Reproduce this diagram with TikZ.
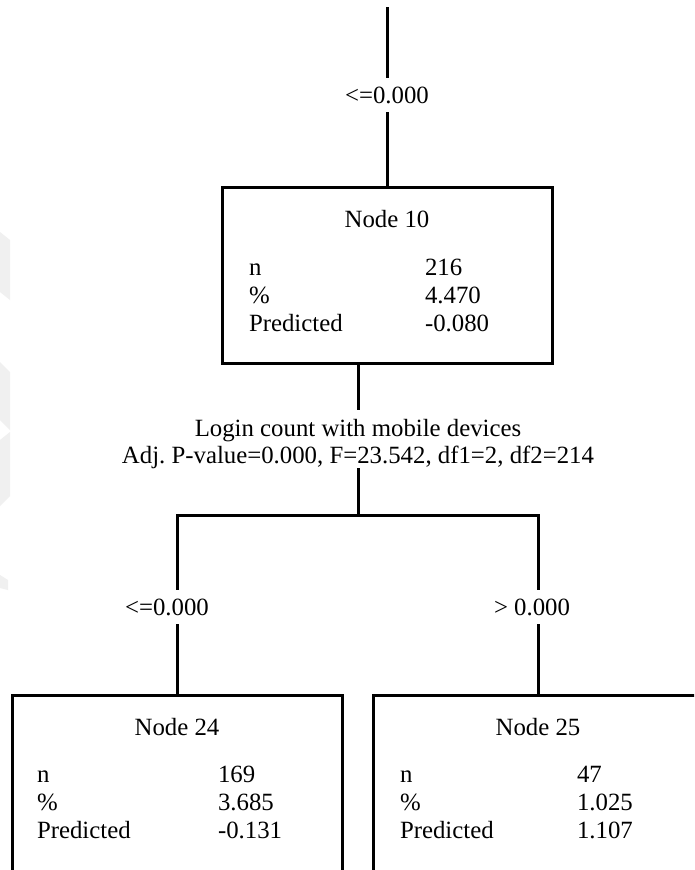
\documentclass[tikz,border=0pt]{standalone}
\usepackage{fontspec}
\setmainfont{Liberation Serif}
\frenchspacing
\begin{document}
\begin{tikzpicture}[x=1pt,y=-1pt,line width=3pt,line join=miter,
  every node/.style={font=\fontsize{24.8}{28}\selectfont,inner sep=0pt,outer sep=0pt},
  box/.style={draw,line width=3pt,minimum width=330pt,minimum height=176pt},
  lab/.style={inner xsep=0pt,inner ysep=9pt},
  wm/.style={fill=black!6,draw=none}]
\clip (0,0) rectangle (694,870);
\fill[white] (0,0) rectangle (694,870);
% faint watermark at left edge
\fill[wm] (0,232) -- (10,240) -- (10,300) -- (0,292) -- cycle;
\fill[wm] (0,362) -- (10,372) -- (10,430) -- (0,420) -- cycle;
\fill[wm] (0,440) -- (10,432) -- (10,496) -- (0,506) -- cycle;
\fill[wm] (0,575) -- (8,580) -- (8,590) -- (0,588) -- cycle;
% boxes
\node[box] (n10) at (387,275) {};
\node[box] (n24) at (177,783) {};
\node[box] (n25) at (538,783) {};
% node 10 text
\node[anchor=base] (n10t) at (387,227) {Node 10};
\node[anchor=base west] (n10a) at (249,275) {n};
\node[anchor=base west] (n10b) at (249,303) {\%};
\node[anchor=base west] (n10c) at (249,331) {Predicted};
\node[anchor=base west] (n10av) at (425,275) {216};
\node[anchor=base west] (n10bv) at (425,303) {4.470};
\node[anchor=base west] (n10cv) at (425,331) {-0.080};
% node 24 text
\node[anchor=base] (n24t) at (177,735) {Node 24};
\node[anchor=base west] (n24a) at (37,782) {n};
\node[anchor=base west] (n24b) at (37,810) {\%};
\node[anchor=base west] (n24c) at (37,838) {Predicted};
\node[anchor=base west] (n24av) at (218,782) {169};
\node[anchor=base west] (n24bv) at (218,810) {3.685};
\node[anchor=base west] (n24cv) at (218,838) {-0.131};
% node 25 text
\node[anchor=base] (n25t) at (538,735) {Node 25};
\node[anchor=base west] (n25a) at (400,782) {n};
\node[anchor=base west] (n25b) at (400,810) {\%};
\node[anchor=base west] (n25c) at (400,838) {Predicted};
\node[anchor=base west] (n25av) at (577,782) {47};
\node[anchor=base west] (n25bv) at (577,810) {1.025};
\node[anchor=base west] (n25cv) at (577,838) {1.107};
% labels
\node[lab,anchor=base] (c0) at (387,103) {<=0.000};
\node[anchor=base,inner ysep=9pt] (s1) at (358,436) {Login count with mobile devices};
\node[anchor=base] (s2) at (358,463) {Adj.\ P-value=0.000, F=23.542, df1=2, df2=214};
\node[lab,anchor=base] (c1) at (167,615) {<=0.000};
\node[lab,anchor=base] (c2) at (532,615) {> 0.000};
\coordinate (root) at (387,7);
\coordinate (hb) at (358,515);
% connectors
\draw (root) -- (c0.north);
\draw (c0.south) -- (n10.north);
\draw (n10.south -| s1.north) -- (s1.north);
\draw (s2.south) -- (hb);
\draw (n24.north |- c1.north) -- (n24.north |- hb) -- (n25.north |- hb) -- (n25.north |- c2.north);
\draw (n24.north |- c1.south) -- (n24.north);
\draw (n25.north |- c2.south) -- (n25.north);
\end{tikzpicture}
\end{document}
